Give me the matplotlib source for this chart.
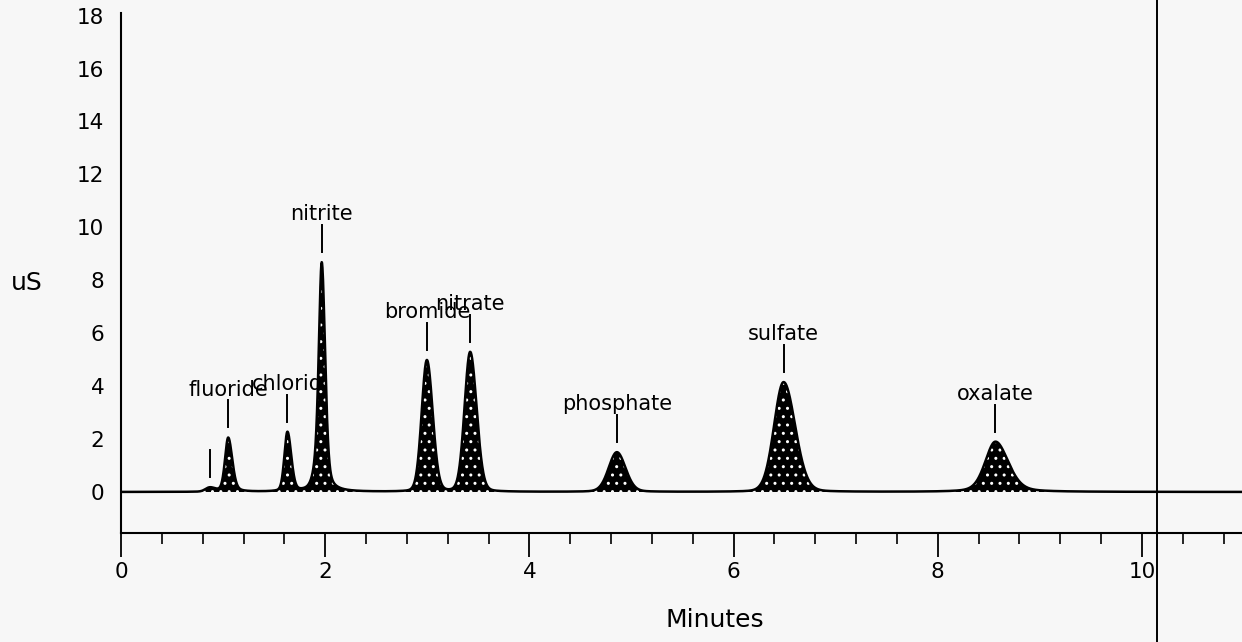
import numpy as np
import matplotlib.pyplot as plt
from matplotlib.ticker import MultipleLocator

plt.rcParams['font.family'] = ['DejaVu Sans']
plt.rcParams['hatch.linewidth'] = 1.0

# Peak table of the ion chromatogram (None = no marker, '' = marker without text)
peak_names = ['', 'fluoride', 'chlorid', None, 'nitrite', 'bromide', 'nitrate',
              'phosphate', 'sulfate', 'oxalate']
retention_min = [0.87, 1.05, 1.63, 1.93, 1.967, 2.996, 3.42, 4.857, 6.49, 8.565]
height_us = [0.15, 2.05, 2.24, 0.6, 8.26, 4.97, 5.28, 1.50, 4.15, 1.90]
hwhm_left = [0.05, 0.037, 0.035, 0.05, 0.034, 0.060, 0.065, 0.095, 0.110, 0.118]
hwhm_right = [0.06, 0.047, 0.044, 0.05, 0.039, 0.067, 0.074, 0.100, 0.133, 0.148]
lorentz_frac = [0.0, 0.3, 0.2, 0.0, 0.4, 0.1, 0.1, 0.15, 0.1, 0.3]

y_ticks = [0, 2, 4, 6, 8, 10, 12, 14, 16, 18]
x_ticks = [0, 2, 4, 6, 8, 10]
run_end = 10.98
stop_marker = 10.15


def peak_shape(t, c, h, wl, wr, eta):
    w = np.where(t < c, wl, wr)
    u = (t - c) / w
    return h * ((1 - eta) * np.exp(-np.log(2) * u ** 2) + eta / (1 + u ** 2))


t = np.linspace(0, run_end, 6000)
signal = np.zeros_like(t)
for c, h, wl, wr, eta in zip(retention_min, height_us, hwhm_left, hwhm_right, lorentz_frac):
    signal += peak_shape(t, c, h, wl, wr, eta)

bg = '#f7f7f7'
fig = plt.figure(figsize=(12.42, 6.42), dpi=100, facecolor=bg)
ax = fig.add_axes([121 / 1242, 1 - 533 / 642, 1 - 121 / 1242, (533 - 13) / 642])
ax.set_facecolor(bg)

# filled, stippled peaks
ax.fill_between(t, 0, signal, facecolor='black', edgecolor='none', zorder=3)
ax.fill_between(t, 0, signal, facecolor='none', edgecolor='white', hatch='..',
                linewidth=0, zorder=3.5)
ax.plot(t, signal, color='black', lw=1.8, zorder=4)

# peak labels with marker lines
for name, c in zip(peak_names, retention_min):
    if name is None:
        continue
    top = np.interp(c, t, signal)
    ax.plot([c, c], [top + 0.38, top + 1.40], color='black', lw=1.4, zorder=4)
    if name:
        ax.text(c, top + 1.58, name, ha='center', va='baseline', fontsize=15,
                color='black', zorder=2)

ax.axvline(stop_marker, ymin=-0.3, ymax=1.1, clip_on=False, color='black', lw=1.4, zorder=5)

ax.set_xlim(0, run_end)
ax.set_ylim(-1.55, 18.1)
ax.set_xticks(x_ticks)
ax.set_xticklabels([str(v) for v in x_ticks])
ax.xaxis.set_minor_locator(MultipleLocator(0.4))
ax.set_yticks(y_ticks)
ax.set_yticklabels([str(v) for v in y_ticks])

for s in ['top', 'right']:
    ax.spines[s].set_visible(False)
for s in ['left', 'bottom']:
    ax.spines[s].set_linewidth(1.5)

ax.tick_params(axis='x', which='major', direction='out', length=17, width=1.3,
               labelsize=15.5, pad=4)
ax.tick_params(axis='x', which='minor', direction='out', length=8, width=1.2)
ax.tick_params(axis='y', which='both', length=0, labelsize=15.5, pad=12)

fig.text(27 / 1242, 1 - 283 / 642, 'uS', ha='center', va='center', fontsize=18)
fig.text(715 / 1242, 1 - 620 / 642, 'Minutes', ha='center', va='center', fontsize=18)

fig.savefig('out.png', dpi=100, facecolor=bg)
